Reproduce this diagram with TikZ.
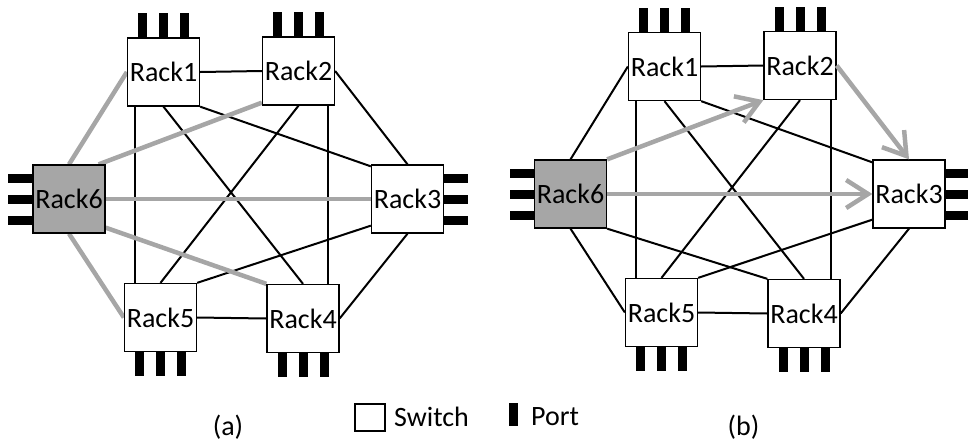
\documentclass[tikz,border=0pt]{standalone}
\usepackage{fontspec}
\setmainfont{Carlito}
\usetikzlibrary{arrows.meta,backgrounds}
\definecolor{lgray}{RGB}{166,166,166}
\definecolor{hubgray}{RGB}{166,166,166}
\begin{document}
\begin{tikzpicture}[x=1pt,y=-1pt,
  rack/.style={draw, line width=1.3pt, minimum width=72pt, minimum height=68pt, inner sep=0pt, fill=white, font=\fontsize{28}{32}\selectfont},
  hub/.style={rack, fill=hubgray},
  vport/.style={fill=black, draw=none, minimum width=9pt, minimum height=24pt, inner sep=0pt},
  hport/.style={fill=black, draw=none, minimum width=24pt, minimum height=9pt, inner sep=0pt},
  blk/.style={line width=2pt, black},
  gry/.style={line width=4.5pt, draw=lgray},
  garr/.style={gry, -{Straight Barb[length=22pt,width=28pt]}},
  lbl/.style={font=\fontsize{28}{32}\selectfont, inner sep=0pt}
]
\useasboundingbox (0,0) rectangle (968,445);
% ---------- panel (a) ----------
\node[rack] (a1) at (163.5,72) {Rack1};
\node[rack] (a2) at (298.5,71) {Rack2};
\node[rack] (a3) at (407.5,199) {Rack3};
\node[rack] (a4) at (303,318.5) {Rack4};
\node[rack] (a5) at (160.5,317.5) {Rack5};
\node[hub]  (a6) at (69,199) {Rack6};
% ---------- panel (b) ----------
\node[rack] (b1) at (664.5,66.5) {Rack1};
\node[rack] (b2) at (800,65.5) {Rack2};
\node[rack] (b3) at (909,194) {Rack3};
\node[rack] (b4) at (804,313.5) {Rack4};
\node[rack] (b5) at (661.5,312.5) {Rack5};
\node[hub]  (b6) at (570.5,194) {Rack6};
% ports
\foreach \n in {a1,a2,b1,b2}
  \foreach \d/\k in {-21/1,0/2,21/3}
    \node[vport, anchor=south] (\n p\k) at ([xshift=\d pt]\n.north) {};
\foreach \n in {a4,a5,b4,b5}
  \foreach \d/\k in {-21/1,0/2,21/3}
    \node[vport, anchor=north] (\n p\k) at ([xshift=\d pt]\n.south) {};
\foreach \n in {a6,b6}
  \foreach \d/\k in {21/1,0/2,-21/3}
    \node[hport, anchor=east] (\n p\k) at ([yshift=\d pt]\n.west) {};
\foreach \n in {a3,b3}
  \foreach \d/\k in {21/1,0/2,-21/3}
    \node[hport, anchor=west] (\n p\k) at ([yshift=\d pt]\n.east) {};
\begin{scope}[on background layer]
  % (a) black
  \draw[blk] (a1.east) -- (a2.west);
  \draw[blk] ([xshift=8pt]a1.south west) -- ([xshift=8pt]a1.south west |- a5.north);
  \draw[blk] (a1.south) -- (a4.north);
  \draw[blk] (a1.south east) -- ([yshift=-2pt]a3.north west);
  \draw[blk] (a2.east) -- (a3.north);
  \draw[blk] (a2.south) -- (a5.north);
  \draw[blk] ([xshift=-7pt]a2.south east) -- ([xshift=-7pt]a2.south east |- a4.north);
  \draw[blk] ([yshift=8pt]a3.south west) -- (a5.north east);
  \draw[blk] (a3.south) -- (a4.east);
  \draw[blk] (a5.east) -- (a4.west);
  % (a) gray
  \draw[gry] (a6.north) -- (a1.west);
  \draw[gry] ([xshift=-7pt]a6.north east) -- ([yshift=3pt]a2.south west);
  \draw[gry] (a6.east) -- (a3.west);
  \draw[gry] ([yshift=6pt]a6.south east) -- (a4.north west);
  \draw[gry] (a6.south) -- (a5.west);
  % (b) black
  \draw[blk] (b6.north) -- (b1.west);
  \draw[blk] (b1.east) -- (b2.west);
  \draw[blk] ([xshift=8pt]b1.south west) -- ([xshift=8pt]b1.south west |- b5.north);
  \draw[blk] (b1.south) -- (b4.north);
  \draw[blk] (b1.south east) -- ([yshift=-3pt]b3.north west);
  \draw[blk] (b2.south) -- (b5.north);
  \draw[blk] ([xshift=-6pt]b2.south east) -- ([xshift=-6pt]b2.south east |- b4.north);
  \draw[blk] (b6.south) -- (b5.west);
  \draw[blk] (b6.south east) -- (b4.north west);
  \draw[blk] ([yshift=9pt]b3.south west) -- (b5.north east);
  \draw[blk] (b3.south) -- (b4.east);
  \draw[blk] (b5.east) -- (b4.west);
\end{scope}
% (b) gray arrows
\draw[garr] (b6.north east) -- (b2.south west);
\draw[garr] (b6.east) -- (b3.west);
\draw[garr] (b2.east) -- (b3.north);
% labels and legend
\node[lbl] (la) at (228,427) {(a)};
\node[lbl] (lb) at (743.5,427) {(b)};
\node[draw, line width=1.3pt, minimum width=30pt, minimum height=27pt, inner sep=0pt] (lsw) at (370,417.5) {};
\node[lbl, anchor=west] (lswt) at (394,417) {Switch};
\node[fill=black, minimum width=9pt, minimum height=23pt, inner sep=0pt] (lpt) at (513.5,414.5) {};
\node[lbl, anchor=west] (lptt) at (531,417) {Port};
\end{tikzpicture}
\end{document}
